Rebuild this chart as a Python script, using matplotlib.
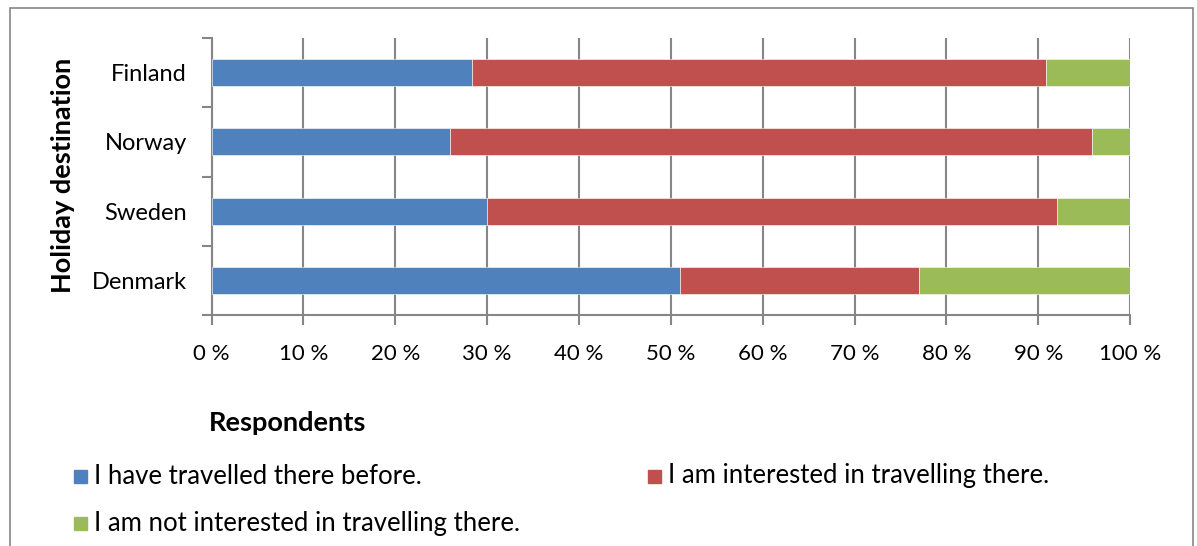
import matplotlib
matplotlib.use("Agg")
import matplotlib.pyplot as plt
from matplotlib.patches import Rectangle

plt.rcParams['font.family'] = ['Lato', 'DejaVu Sans']

countries = ['Denmark', 'Sweden', 'Norway', 'Finland']
travelled = [51.0, 30.0, 25.9, 28.3]
interested = [26.0, 62.0, 70.0, 62.5]
not_interested = [23.0, 8.0, 4.1, 9.2]
series_names = ['I have travelled there before.',
                'I am interested in travelling there.',
                'I am not interested in travelling there.']
colors = ['#4f81bd', '#c0504d', '#9bbb59']
x_ticks = list(range(0, 101, 10))

fig = plt.figure(figsize=(11.97, 5.46), dpi=100)

# outer chart frame
fig.patches.append(Rectangle((10 / 1197, -0.05), 1183 / 1197, 1.05 - 8 / 546,
                             transform=fig.transFigure, fill=False,
                             edgecolor='#868686', linewidth=1.2))

ax = fig.add_axes([0.1768, 0.423, 0.7673, 0.5073])  # llx, lly, w, h
ypos = list(range(len(countries)))
h = 0.39
left = [0] * len(countries)
for vals, name, col in zip([travelled, interested, not_interested], series_names, colors):
    ax.barh(ypos, vals, height=h, left=left, color=col, label=name,
            edgecolor='white', linewidth=0.4, zorder=3)
    left = [a + b for a, b in zip(left, vals)]

ax.set_xlim(0, 100)
ax.set_ylim(-0.5, 3.5)
ax.set_xticks(x_ticks)
ax.set_xticklabels([f'{t} %' for t in x_ticks], fontsize=16)
ax.set_yticks([-0.5, 0.5, 1.5, 2.5, 3.5])
ax.set_yticklabels([])
ax.set_yticks(ypos, minor=True)
ax.set_yticklabels(countries, minor=True, fontsize=17)
ax.tick_params(axis='y', which='minor', length=0, pad=18)
ax.tick_params(axis='y', which='major', length=7, width=1.5, color='#868686')
ax.tick_params(axis='x', length=7, width=1.5, color='#868686', pad=14)
ax.grid(axis='x', color='#868686', linewidth=1.5, zorder=0)
ax.set_axisbelow(True)
for s in ['top', 'right']:
    ax.spines[s].set_visible(False)
for s in ['left', 'bottom']:
    ax.spines[s].set_color('#868686')
    ax.spines[s].set_linewidth(1.5)

fig.text(63 / 1197, 1 - 175 / 546, 'Holiday destination', rotation=90,
         ha='center', va='center', fontsize=19.5, fontweight='bold')
fig.text(288 / 1197, 1 - 423 / 546, 'Respondents', ha='center', va='center',
         fontsize=19.5, fontweight='bold')

leg_pos = [(74, 476), (648, 476), (74, 523)]
for (lx, ly), name, col in zip(leg_pos, series_names, colors):
    fig.patches.append(Rectangle((lx / 1197, 1 - (ly + 6.5) / 546), 13 / 1197, 13 / 546,
                                 transform=fig.transFigure, color=col))
    fig.text((lx + 20) / 1197, 1 - ly / 546, name, ha='left', va='center', fontsize=18.5)

fig.savefig('out.png', dpi=100)
